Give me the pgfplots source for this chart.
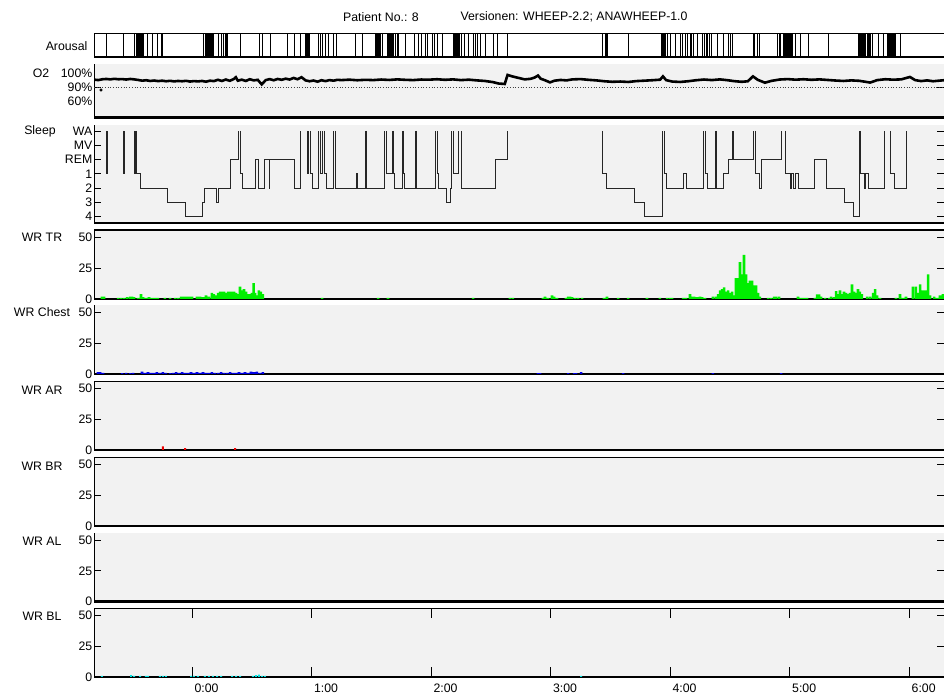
\documentclass[border=0pt]{standalone}
\usepackage{pgfplots}
\pgfplotsset{compat=1.18}
\usepackage{fontspec}
\setmainfont{Liberation Sans}
\definecolor{panelbg}{RGB}{242,242,242}
\definecolor{wrgreen}{RGB}{0,238,0}
\definecolor{wrblue}{RGB}{0,0,230}
\definecolor{wrred}{RGB}{235,0,0}
\definecolor{wrcyan}{RGB}{0,225,225}
\newcommand{\panelfont}{\fontsize{12.3}{13}\selectfont}
\pgfplotsset{
  panel/.style={
    scale only axis, width=850pt, xmin=-49.2, xmax=377.5,
    clip=false,
    axis line style={draw=none},
    axis background/.style={fill=panelbg},
    xtick=\empty,
    tick align=inside,
    major tick length=7pt,
    tick style={black, line width=0.9pt},
    yticklabel style={font=\panelfont, inner sep=1.5pt},
    xticklabel style={font=\panelfont},
    anchor=south west,
  },
  wr/.style={panel, height=68.5pt, ymin=0, ymax=55.8, ytick={0,25,50}, yticklabels={0,25,50}},
}
\newcommand{\lline}{\draw[line width=1pt] (rel axis cs:0,0) -- (rel axis cs:0,1);}
\newcommand{\bline}[1][2.5pt]{\draw[line width=#1] (rel axis cs:0,0) -- (rel axis cs:1,0);}
\newcommand{\tline}[1][1pt]{\draw[line width=#1] (rel axis cs:0,1) -- (rel axis cs:1,1);}
\begin{document}
\begin{tikzpicture}
\path[use as bounding box] (0pt,0pt) rectangle (944pt,698pt);
% titles
\node[font=\panelfont] at (381pt,681pt) {Patient No.: 8};
\node[font=\panelfont, anchor=west] at (457pt,681pt) {Versionen: WHEEP-2.2; ANAWHEEP-1.0};
% panel names
\node[font=\panelfont, anchor=east] at (91pt,652pt) {Arousal};
\node[font=\panelfont] at (41pt,625pt) {O2};
\node[font=\panelfont] at (40pt,567pt) {Sleep};
\node[font=\panelfont] at (42pt,461pt) {WR TR};
\node[font=\panelfont] at (42pt,386pt) {WR Chest};
\node[font=\panelfont] at (42pt,308pt) {WR AR};
\node[font=\panelfont] at (42pt,232pt) {WR BR};
\node[font=\panelfont] at (42pt,157pt) {WR AL};
\node[font=\panelfont] at (42pt,82pt) {WR BL};

% ---------------- Arousal
\begin{axis}[panel, at={(94pt,641pt)}, height=23pt, ymin=0, ymax=1, ytick=\empty,
  axis background/.style={fill=white}]
\lline \tline \bline
\addplot[ycomb, black, line width=0.9pt] coordinates {
(-43.2,1)(-34.6,1)(-29.1,1)(-28.1,1)(-27.6,1)(-27.1,1)(-26.6,1)(-26.1,1)(-25.6,1)(-25.1,1)(-24.6,1)
(-22.6,1)(-20.1,1)(-17.6,1)(-15.1,1)(-14.6,1)
(5.5,1)(6.5,1)(7.0,1)(7.5,1)(8.0,1)(8.5,1)(9.0,1)(9.5,1)(10.0,1)(10.5,1)(11.0,1)
(13.1,1)(14.6,1)(15.6,1)(16.6,1)(17.1,1)(17.6,1)(24.1,1)(34.1,1)(35.6,1)(39.2,1)(47.7,1)(51.2,1)(54.2,1)
(56.7,1)(57.2,1)(57.7,1)(58.2,1)(58.7,1)(59.2,1)(63.3,1)(64.3,1)(65.3,1)(66.8,1)(68.3,1)(70.8,1)(72.3,1)
(81.8,1)(85.8,1)
(91.9,1)(92.4,1)(92.9,1)(93.4,1)(93.9,1)(94.4,1)(95.4,1)(97.9,1)(98.4,1)(98.9,1)(99.4,1)(99.9,1)(100.4,1)
(100.9,1)(101.9,1)(102.9,1)(103.4,1)(106.9,1)(111.9,1)(113.5,1)(115.0,1)(117.0,1)(118.0,1)(120.5,1)(121.5,1)
(123.0,1)(125.5,1)
(131.0,1)(131.5,1)(132.0,1)(132.5,1)(133.0,1)(133.5,1)(134.5,1)(135.5,1)(137.0,1)(138.6,1)(141.1,1)(142.1,1)
(143.1,1)(144.6,1)(147.1,1)(151.1,1)(153.1,1)(158.1,1)
(205.8,1)(207.3,1)(207.8,1)(208.3,1)(218.9,1)
(235.9,1)(236.4,1)(236.9,1)(237.4,1)(237.9,1)(238.5,1)(240.0,1)(242.5,1)(245.0,1)(246.0,1)(247.5,1)(248.5,1)
(250.0,1)(250.5,1)(251.5,1)(253.5,1)(256.0,1)(257.0,1)(258.0,1)(258.5,1)(260.0,1)(261.0,1)(263.6,1)(266.6,1)
(269.1,1)(270.1,1)(271.1,1)
(281.6,1)(282.1,1)(283.6,1)(285.1,1)(293.7,1)(294.7,1)(295.2,1)(296.7,1)(297.2,1)(297.7,1)(298.2,1)(298.7,1)
(299.2,1)(299.7,1)(300.2,1)(300.7,1)(301.2,1)(302.7,1)(305.2,1)(309.2,1)(319.3,1)
(334.3,1)(334.8,1)(335.3,1)(335.8,1)(336.3,1)(336.8,1)(337.3,1)(337.8,1)(338.3,1)(338.9,1)(339.4,1)(339.9,1)
(340.4,1)(341.4,1)(344.4,1)(346.9,1)(348.9,1)(349.4,1)(349.9,1)(350.4,1)(350.9,1)(351.4,1)(351.9,1)(352.4,1)
(352.9,1)(355.4,1)
};
\end{axis}

% ---------------- O2
\begin{axis}[panel, at={(94pt,580.5pt)}, height=53pt, ymin=-1.11, ymax=2.59,
  ytick={1}, yticklabels={90\%},
  extra y ticks={0,2}, extra y tick labels={60\%,100\%},
  extra y tick style={/pgfplots/major tick length=0pt, yticklabel style={font=\panelfont, inner sep=1.5pt}},
  y filter/.expression={y>=90 ? 1+(y-90)/10 : (y-60)/30}]
\lline \bline
\addplot[black!75, dotted, line width=0.7pt] coordinates {(-49.2,90) (377.5,90)};
\addplot[black, line width=2.6pt] coordinates {
(-49,95.3)(-47,95.0)(-45,95.6)(-43,95.8)(-41,95.5)(-39,95.9)(-37,95.6)(-35,95.7)(-33,95.4)(-31,95.8)
(-29,95.5)(-27,95.1)(-25,94.6)(-23,94.9)(-21,94.4)(-19,94.7)(-17,94.3)(-15,94.6)(-13,94.2)(-11,94.5)
(-9,94.1)(-7,94.4)(-5,94.2)(-3,94.5)(-1,94.0)(1,94.3)(3,94.1)(5,94.4)(7,93.9)(9,94.6)(11,94.3)
(13,95.2)(15,94.4)(17,95.4)(19,94.5)(21,95.8)(22,97.0)(23,94.6)(25,95.3)(27,94.4)(29,95.6)(31,94.8)
(33,95.2)(35,92.0)(37,95.0)(39,95.7)(41,94.9)(43,95.8)(45,95.2)(47,96.0)(49,95.4)(51,96.5)(53,95.6)
(55,97.0)(57,94.8)(59,94.2)(61,94.7)(63,93.9)(65,94.9)(67,94.3)(69,95.0)(71,94.6)(73,95.2)
(75,95.0)(79,95.3)(83,94.9)(87,95.2)(91,95.0)(95,95.4)(99,95.1)(103,95.5)(107,95.2)(111,95.0)
(115,95.4)(119,95.3)(123,95.6)(127,95.2)(131,95.5)(135,95.0)(139,95.3)(143,94.8)(147,94.4)(151,93.6)
(154,92.6)(157,92.3)(158.4,98.6)(161,97.5)(164,96.5)(167,95.5)(170,95.9)(172,96.8)(173.7,98.2)
(175,96.0)(177,95.0)(179.7,93.4)(182,94.6)(185,95.1)(188,94.8)(191,95.5)(195,95.7)(199,95.2)(203,94.8)
(207,94.2)(211,93.8)(215,94.0)(219,93.7)(223,94.3)(227,94.6)(231,94.9)(235,95.3)(236.4,97.6)(238,95.0)
(241,94.0)(245,93.7)(249,94.2)(253,94.9)(257,95.4)(261,95.0)(265,95.5)(269,94.9)(272,94.3)(276,93.8)
(279,94.2)(281.6,97.6)(284,95.2)(287.6,93.2)(291,94.5)(295,95.4)(299,95.7)(303,95.3)(307,95.6)
(311,95.2)(315,95.5)(319,95.1)(323,94.7)(327,94.4)(331,94.8)(335,94.5)(340.4,93.3)(344,95.0)(348,95.6)
(352,95.3)(356,95.5)(360.4,97.2)(363,95.0)(366,94.3)(369,94.8)(372,94.2)(375,94.6)(377.5,94.9)
};
\addplot[only marks, mark=*, mark size=1.3pt, black] coordinates {(-45.7,84.3)};
\end{axis}

% ---------------- Sleep
\begin{axis}[panel, at={(94pt,475pt)}, height=98pt, ymin=-0.44, ymax=6.42,
  ytick={0,1,2,3,4,5,6}, yticklabels={4,3,2,1,REM,MV,WA}, unbounded coords=jump]
\lline \bline
\addplot[black!85, line width=0.8pt] coordinates {
(-43.2,6)(-43.2,3)(-42.7,3)(-42.7,6)(-42.7,nan)
(-34.4,6)(-34.4,3)(-34.1,3)(-34.1,6)(-34.1,nan)
(-29.1,6)(-29.1,3)(-28.4,3)(-28.4,6)(-28.4,nan)
(-27.9,6)(-27.9,3)(-26.1,3)(-26.1,2)(-12.4,2)(-12.4,1)(-3.5,1)(-3.5,0)(5.0,0)(5.0,1)(6.0,1)(6.0,2)(12.0,2)(12.0,1)(13.4,1)(13.4,2)(19.3,2)(19.3,4)(23.2,4)(23.2,6)(23.2,nan)
(24.1,6)(24.1,3)(25.5,3)(25.5,2)(31.6,2)(31.6,4)(33.3,4)(33.3,2)(36.1,2)(36.1,4)(38.7,4)(38.7,2)(38.9,2)(38.9,4)(51.2,4)(51.2,2)(54.2,2)(54.2,6)(54.2,nan)
(57.7,6)(57.7,3)(58.2,3)(58.2,6)(58.2,nan)
(59.2,6)(59.2,3)(60.5,3)(60.5,2)(63.3,2)(63.3,6)(63.3,nan)
(64.3,6)(64.3,3)(65.3,3)(65.3,6)(65.3,nan)
(66.3,6)(66.3,3)(67.3,3)(67.3,2)(70.8,2)(70.8,6)(70.8,nan)
(72.1,6)(72.1,2)(82.6,2)(82.6,3)(83.1,3)(83.1,2)(86.8,2)(86.8,6)(86.8,nan)
(87.7,6)(87.7,2)(96.4,2)(96.4,6)(96.4,nan)
(97.4,6)(97.4,3)(100.4,3)(100.4,6)(100.4,nan)
(100.9,6)(100.9,3)(101.6,3)(101.6,2)(105.4,2)(105.4,6)(105.4,nan)
(105.9,6)(105.9,3)(106.4,3)(106.4,2)(111.9,2)(111.9,6)(111.9,nan)
(112.4,6)(112.4,2)(122.0,2)(122.0,6)(122.0,nan)
(123.3,6)(123.3,3)(123.6,3)(123.6,2)(127.9,2)(127.9,1)(129.5,1)(129.5,2)(130.4,2)(130.4,6)(130.4,nan)
(131.0,6)(131.0,3)(133.7,3)(133.7,6)(133.7,nan)
(135.4,6)(135.4,2)(152.5,2)(152.5,4)(158.3,4)(158.3,6)(158.3,nan)
(206.0,6)(206.0,3)(207.8,3)(207.8,2)(222.0,2)(222.0,1)(226.9,1)(226.9,0)(236.3,0)(236.3,6)(236.3,nan)
(237.3,6)(237.3,3)(238.3,3)(238.3,2)(246.6,2)(246.6,3)(248.0,3)(248.0,2)(256.7,2)(256.7,6)(256.7,nan)
(257.5,6)(257.5,3)(258.9,3)(258.9,2)(262.5,2)(262.5,6)(262.5,nan)
(263.4,6)(263.4,2)(266.7,2)(266.7,3)(269.2,3)(269.2,4)(271.4,4)(271.4,6)(271.7,6)(271.7,4)(281.8,4)(281.8,6)(281.8,nan)
(282.6,6)(282.6,3)(284.6,3)(284.6,2)(285.6,2)(285.6,4)(296.0,4)(296.0,6)(296.0,nan)
(297.7,6)(297.7,3)(300.2,3)(300.2,2)(300.7,2)(300.7,3)(301.7,3)(301.7,2)(302.7,2)(302.7,3)(304.4,3)(304.4,2)(312.2,2)(312.2,4)(318.6,4)(318.6,2)(327.5,2)(327.5,1)(332.0,1)(332.0,0)(334.8,0)(334.8,6)(334.8,nan)
(335.7,6)(335.7,3)(337.3,3)(337.3,2)(337.8,2)(337.8,3)(339.5,3)(339.5,2)(347.4,2)(347.4,6)(347.4,nan)
(350.4,6)(350.4,3)(352.4,3)(352.4,2)(358.4,2)(358.4,6)
};
\end{axis}

% ---------------- WR TR
\begin{axis}[wr, at={(94pt,399pt)}]
\lline \tline[2pt] \bline
\addplot[ybar, bar width=1.3, bar shift=0pt, draw=none, fill=wrgreen] coordinates {
(-45.2,2)(-44.2,2)(-37.1,1)(-35.6,1)(-34.1,1)(-32.6,1.5)(-31.1,2)(-30.1,2)(-29.1,1.5)(-27.1,1)(-25.6,4)
(-24.6,1.5)(-23.1,1)(-21.6,1.5)(-20.1,1)(-18.6,1)(-17.1,1)(-13.6,1)(-11.0,1)(-8.5,1)(-7.0,1)(-5.5,2)(-4.5,2)
(-3.0,2)(-1.5,2)(0,2)(2.5,2)(4.0,2)(5.5,1.5)(7.0,3)(8.5,2)(10.0,5)(11.0,4)(12.0,3)(13.1,5)(14.1,6)(15.1,6)
(16.1,6)(17.1,5)(18.1,6)(19.1,6)(20.1,6)(21.1,6)(22.1,5)(23.1,4)(24.1,10)(25.1,7)(26.1,8)(27.1,6)(28.1,4)
(29.1,4)(30.1,5)(30.9,13)(31.6,5)(32.6,3)(33.6,7)(34.6,6)(35.6,4)(65.3,1)(93.4,1)(98.4,1)(141.1,1)
(159.6,1)(161.1,1)(176.2,1)(177.2,2)(178.7,1)(180.7,3)(181.7,2)(183.2,1)(187.7,1)(188.8,2)(189.8,2)(190.8,1.5)
(192.3,1)(193.8,1)(195.8,1)(206.8,1)(208.3,2)(213.9,1)(218.9,1)(228.4,1)(234.9,1)(238.5,1)(240.0,1)(241.0,1)
(246.5,1)(248.0,1)(250.0,4)(251.0,2)(252.0,2)(253.5,1.5)(255.0,2)(256.0,1.5)(257.5,1)(261.5,2)(263.0,2)
(264.1,4)(265.1,7)(266.1,8)(267.1,9.5)(268.1,6)(269.1,7)(270.1,5)(271.1,6)(272.1,3)(273.1,17)(274.1,17)
(275.1,30)(276.1,20)(277.1,36)(278.1,20)(279.1,13)(280.1,15)(281.1,15)(282.1,11)(283.1,11)(284.1,5)(285.1,2)
(289.2,1)(290.7,1)(292.2,2)(293.2,2)(294.7,2)(304.2,2)(305.7,1)(307.2,1)(308.7,1)(312.7,1)(313.8,3.8)
(314.8,3.8)(315.8,2)(317.8,1)(319.8,1)(320.8,2)(322.3,1.5)(323.3,6.5)(324.3,4)(325.3,7)(326.3,4)(327.3,6)
(328.3,5)(329.3,4)(330.3,5)(331.3,12)(332.3,6)(333.3,5)(334.3,8)(335.3,6)(336.3,4)(338.9,2)(340.4,2)
(341.9,5)(342.9,8)(343.9,3)(345.4,1)(353.4,1)(355.4,4)(356.9,1)(358.4,2)(361.9,10)(363.4,10)(364.5,5)
(365.5,12)(366.5,7)(367.5,7)(368.5,7)(369.5,20)(370.5,3)(372.5,2)(374.0,1)(375.5,3)(377.0,4)
};
\end{axis}

% ---------------- WR Chest
\begin{axis}[wr, at={(94pt,324pt)}]
\lline \bline
\addplot[ybar, bar width=1.3, bar shift=0pt, draw=none, fill=wrblue] coordinates {
(-47.2,1.5)(-46.2,1.5)(-44.7,1)(-35.1,0.8)(-33.1,1)(-31.1,0.8)(-29.6,1)(-25.1,2)(-23.6,1)(-22.1,1.5)
(-20.6,1)(-19.1,1)(-17.6,1.5)(-16.1,1)(-14.6,1.5)(-13.1,1)(-11.0,0.8)(-9.5,1)(-8.0,1.5)(-6.5,1)(-5.0,1.5)
(-3.5,1)(-2.0,1)(-0.5,1.5)(1.0,1)(2.5,1.5)(4.0,1)(5.5,1.5)(7.0,1)(8.5,1)(10.0,1.5)(11.5,1)(13.1,1)(14.6,1.5)
(16.1,1)(17.6,1)(19.1,1.5)(20.6,1)(22.1,1)(23.6,1.5)(25.1,1)(26.6,1.5)(28.1,1)(29.6,2)(31.1,1.5)(32.6,2)
(34.1,1)(35.6,1.5)
(173.7,0.8)(174.7,0.8)(188.8,0.8)(191.8,0.8)(192.8,0.8)(195.3,1.5)(216.4,0.8)(261.5,0.8)(295.7,0.8)
};
\end{axis}

% ---------------- WR AR
\begin{axis}[wr, at={(94pt,248pt)}]
\lline \tline \bline
\addplot[ybar, bar width=1.0, bar shift=0pt, draw=none, fill=wrred] coordinates {
(-14.6,3)(-3.5,1.5)(21.6,1.5)
};
\end{axis}

% ---------------- WR BR
\begin{axis}[wr, at={(94pt,172pt)}]
\lline \tline \bline[1.3pt]
\end{axis}

% ---------------- WR AL
\begin{axis}[wr, at={(94pt,96.5pt)}]
\lline \bline
\end{axis}

% ---------------- WR BL
\begin{axis}[wr, at={(94pt,21pt)},
  xtick={0,60,120,180,240,300,360},
  xticklabels={0:00,1:00,2:00,3:00,4:00,5:00,6:00},
  x tick style={/pgfplots/major tick length=10pt},
  xticklabel style={anchor=north west, xshift=-1pt, yshift=-3pt}]
\lline \tline \bline
\addplot[ybar, bar width=1.0, bar shift=0pt, draw=none, fill=wrcyan] coordinates {
(-45.2,1)(-30.6,1.5)(-29.1,1)(-26.1,1)(-23.1,1)(-22.1,1)(-16.1,1)(-14.6,1)(-13.1,1)(-0.5,1)(1.0,1)(3.0,1)
(6.5,1)(8.5,1)(10.5,1)(12.6,1)(14.6,1)(20.1,1)(22.1,1)(24.1,1)(30.6,1)(32.1,1.5)(33.6,2)(35.1,1)(36.6,1)
(195.3,1)
};
\end{axis}
\end{tikzpicture}
\end{document}
